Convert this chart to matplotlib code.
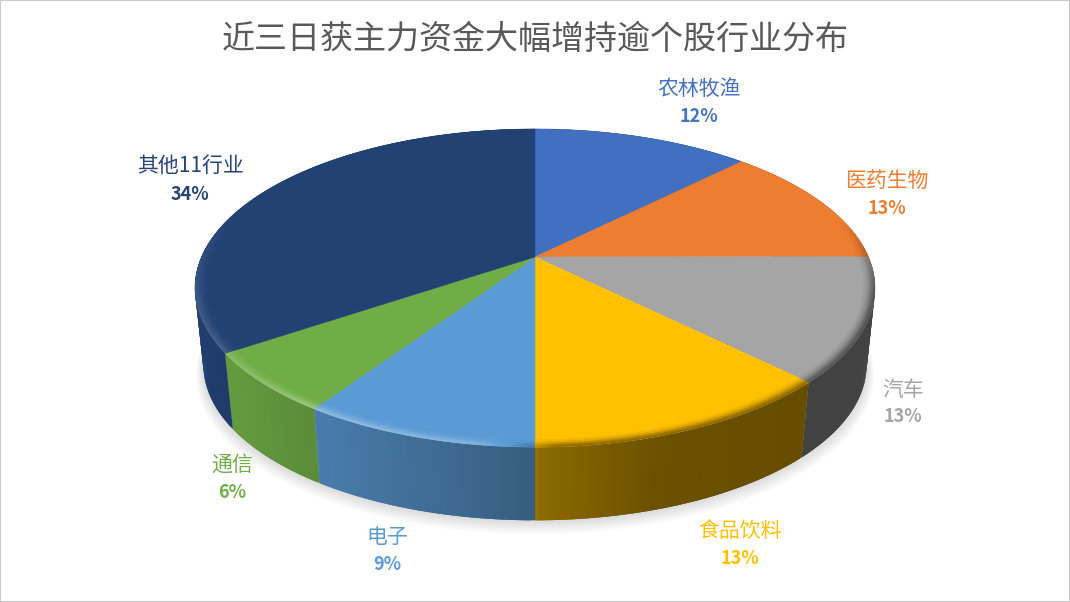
import numpy as np
import matplotlib
matplotlib.use('Agg')
import matplotlib.pyplot as plt
from matplotlib.collections import PolyCollection
from matplotlib.colors import to_rgb

plt.rcParams['font.family'] = ['Noto Sans CJK SC', 'DejaVu Sans']

# --- data ---
title = '近三日获主力资金大幅增持逾个股行业分布'
categories = ['农林牧渔', '医药生物', '汽车', '食品饮料', '电子', '通信', '其他11行业']
shares = [12.45, 12.52, 12.52, 12.51, 9.36, 6.15, 34.49]
slice_colors = ['#4170c0', '#ed7d31', '#a5a5a5', '#ffc000', '#5b9bd5', '#70ad47', '#234274']
label_colors = ['#4472c4', '#ed7d31', '#a5a5a5', '#ffc000', '#5b9bd5', '#70ad47', '#264478']
label_xy = [(699, 89), (887, 181), (903, 390), (740, 531), (387, 537), (232, 465), (190, 167)]

# --- perspective of the disc, in pixels ---
CX, CY = 535, 257
RX, RY, K = 333.5, 153, 0.195
WALL_SCALE, WALL_DROP = 0.975, 78


def top_xy(ang, r=1.0):
    # ang in degrees clockwise from 12 o'clock
    u = r * np.sin(np.radians(ang))
    v = r * np.cos(np.radians(ang))
    d = 1 + K * v
    return CX + RX * u / d, CY - RY * v / d


def bottom_xy(ang, grow=0.0, drop=0.0):
    x, y = top_xy(ang)
    s = WALL_SCALE + grow
    return CX + s * (x - CX), CY + s * (y - CY) + WALL_DROP + drop


def wall_shade(x):
    return np.interp(x, [200, 320, 450, 535, 540, 660, 800, 875],
                     [0.92, 0.80, 0.68, 0.60, 0.55, 0.42, 0.40, 0.40])


def bevel_tone(x):
    return np.interp(x, [195, 320, 480, 560, 800, 875], [0.12, 0.32, 0.25, -0.45, -0.45, -0.5])


def mix(rgb, tone):
    rgb = np.array(rgb)
    if tone >= 0:
        return tuple(rgb + (1 - rgb) * tone)
    return tuple(rgb * (1 + tone))


fig = plt.figure(figsize=(10.7, 6.02), dpi=100, facecolor='white')
ax = fig.add_axes([0, 0, 1, 1])
ax.set_xlim(0, 1070)
ax.set_ylim(602, 0)
ax.set_xticks([])
ax.set_yticks([])
for s in ax.spines.values():
    s.set_color('#c8c8c8')
    s.set_linewidth(1.5)

edges = np.concatenate([[0], np.cumsum(shares)]) * 3.6

# soft shadow under the wall
ring = np.linspace(80, 290, 200)
for i in range(12):
    sx, sy = bottom_xy(ring, grow=0.002 * i, drop=1 + 0.8 * i)
    ax.fill(sx, sy, color='#808080', alpha=0.025, lw=0, zorder=1)

# side wall, thin vertical strips (each one runs over the next so no seams show)
polys, cols = [], []
for a0, a1, c in zip(edges[:-1], edges[1:], slice_colors):
    base = to_rgb(c)
    steps = np.linspace(a0, a1, max(3, int((a1 - a0) * 2)))
    for t0, t1 in zip(steps[:-1], steps[1:]):
        t2 = min(t1 + 0.6, a1)
        x0, y0 = top_xy(t0)
        x1, y1 = top_xy(t2)
        bx0, by0 = bottom_xy(t0)
        bx1, by1 = bottom_xy(t2)
        polys.append([(x0, y0), (x1, y1), (bx1, by1), (bx0, by0)])
        cols.append(tuple(np.array(base) * wall_shade(top_xy((t0 + t1) / 2)[0])))
ax.add_collection(PolyCollection(polys, facecolors=cols, edgecolors='none', linewidths=0, zorder=2))

# top faces
for a0, a1, c in zip(edges[:-1], edges[1:], slice_colors):
    arc = np.linspace(a0, a1, 120)
    x, y = top_xy(arc)
    ax.fill(np.r_[CX, x], np.r_[CY, y], facecolor=c, edgecolor=c, lw=0.4, zorder=3)

# bevel along the rim
bands = np.array([0.968, 0.976, 0.983, 0.989, 0.995, 1.0])
strength = [0.12, 0.3, 0.55, 0.8, 1.0]
polys, cols = [], []
for (r0, r1), st in zip(zip(bands[:-1], bands[1:]), strength):
    for a0, a1, c in zip(edges[:-1], edges[1:], slice_colors):
        base = to_rgb(c)
        steps = np.linspace(a0, a1, max(3, int((a1 - a0) * 2)))
        for t0, t1 in zip(steps[:-1], steps[1:]):
            tm = (t0 + t1) / 2
            vis = np.clip(0.25 - np.cos(np.radians(tm)), 0, 0.5) / 0.5
            if vis <= 0:
                continue
            t2 = min(t1 + 0.6, a1)
            tone = bevel_tone(top_xy(tm)[0]) * vis
            x00, y00 = top_xy(t0, r0)
            x01, y01 = top_xy(t2, r0)
            x10, y10 = top_xy(t2, r1)
            x11, y11 = top_xy(t0, r1)
            polys.append([(x00, y00), (x01, y01), (x10, y10), (x11, y11)])
            cols.append(mix(base, tone * st))
ax.add_collection(PolyCollection(polys, facecolors=cols, edgecolors='none', linewidths=0, zorder=4))

# labels
ax.text(535, 39, title, ha='center', va='center', fontsize=23.8, color='#595959')
for name, val, c, (lx, ly) in zip(categories, shares, label_colors, label_xy):
    ax.text(lx, ly, name, ha='center', va='center', fontsize=15, color=c, fontweight='medium')
    ax.text(lx, ly + 27, f'{val:.0f}%', ha='center', va='center', fontsize=13, color=c,
            fontweight='bold')

fig.savefig('out.png', dpi=100)
